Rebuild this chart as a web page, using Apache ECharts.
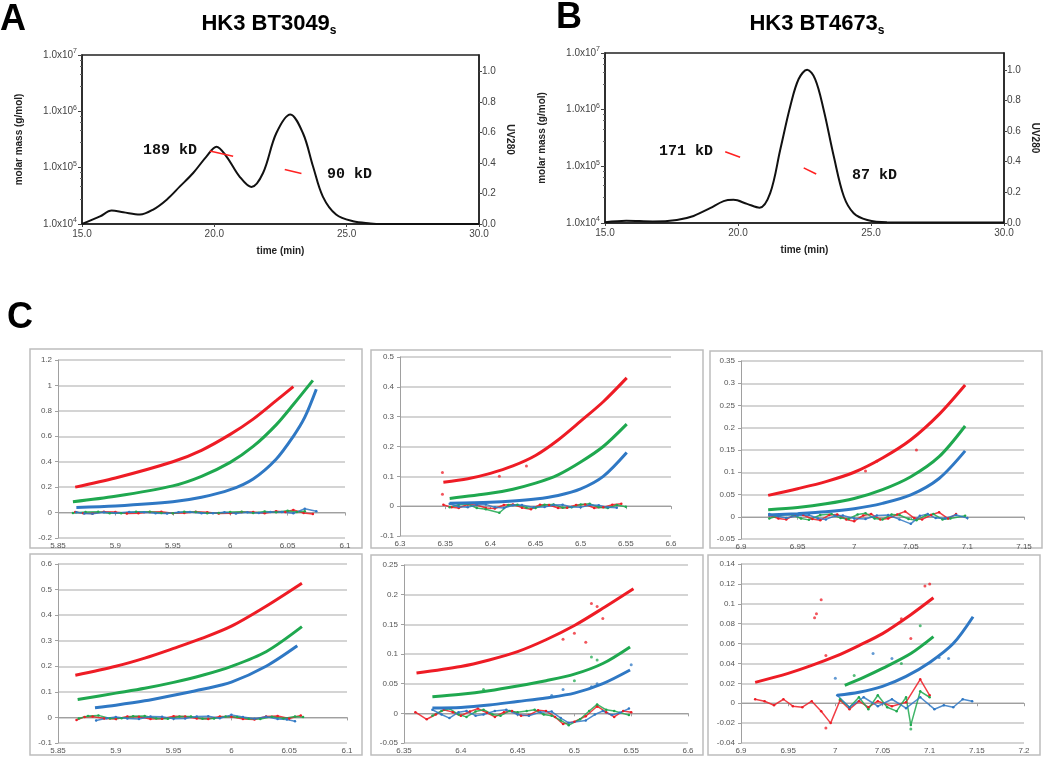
<!DOCTYPE html>
<html>
<head>
<meta charset="utf-8">
<script src="https://cdn.jsdelivr.net/npm/echarts@6/dist/echarts.min.js"></script>
<style>
  html, body { margin: 0; padding: 0; background: #fff; }
  #chart { width: 1050px; height: 760px; }
</style>
</head>
<body>
<div id="chart"></div>
<script>
// ---------- A / B : SEC-MALS traces [time (min), UV280] ----------
const uvA = [[15.0, 0.0], [15.68, 0.05], [16.12, 0.088], [16.56, 0.077], [17.19, 0.062], [17.69, 0.095],
  [18.2, 0.16], [18.7, 0.247], [19.2, 0.335], [19.7, 0.443], [20.08, 0.508], [20.46, 0.443], [20.96, 0.31],
  [21.4, 0.243], [21.84, 0.335], [22.34, 0.596], [22.87, 0.72], [23.35, 0.596], [23.73, 0.378], [24.1, 0.18],
  [24.6, 0.062], [25.24, 0.018], [25.9, 0.004], [26.3, 0.0], [30.0, 0.0]]
const uvB = [[15.0, 0.005], [15.8, 0.015], [16.8, 0.01], [17.7, 0.02], [18.33, 0.046], [18.95, 0.097],
  [19.46, 0.143], [19.83, 0.151], [20.34, 0.125], [20.81, 0.1], [21.21, 0.195], [21.59, 0.48], [21.97, 0.765],
  [22.28, 0.94], [22.6, 1.0], [22.9, 0.94], [23.22, 0.74], [23.6, 0.436], [23.98, 0.173], [24.35, 0.064],
  [24.86, 0.02], [25.6, 0.005], [30.0, 0.003]]
// molar mass across peaks [time, g/mol]
const massA1 = [[19.83, 1.98e5], [20.71, 1.6e5]]
const massA2 = [[22.66, 9.3e4], [23.29, 7.9e4]]
const massB1 = [[19.52, 1.8e5], [20.08, 1.44e5]]
const massB2 = [[22.47, 9.4e4], [22.94, 7.3e4]]
const massLabelsA = ['189 kD', '90 kD']
const massLabelsB = ['171 kD', '87 kD']
const titles = ['HK3 BT3049', 'HK3 BT4673']
const uvTicks = [0, 1.11, 0.2]
const timeTicks = [15, 30, 5]

// ---------- C : six small panels (TL, TM, TR, BL, BM, BR) ----------
const xTicksC = [[5.85, 6.1, 0.05], [6.3, 6.6, 0.05], [6.9, 7.15, 0.05], [5.85, 6.1, 0.05], [6.35, 6.6, 0.05], [6.9, 7.2, 0.05]]
const yTicksC = [[-0.2, 1.2, 0.2], [-0.1, 0.5, 0.1], [-0.05, 0.35, 0.05], [-0.1, 0.6, 0.1], [-0.05, 0.25, 0.05], [-0.04, 0.14, 0.02]]

const tlRed = [[5.865, 0.2], [5.9, 0.272], [5.95, 0.4], [5.975, 0.49], [6.0, 0.615], [6.02, 0.735], [6.04, 0.88], [6.055, 0.99]]
const tlGreen = [[5.863, 0.085], [5.9, 0.128], [5.95, 0.21], [5.975, 0.285], [6.0, 0.395], [6.02, 0.52], [6.04, 0.69], [6.055, 0.85], [6.072, 1.04]]
const tlBlue = [[5.866, 0.04], [5.9, 0.052], [5.95, 0.085], [5.975, 0.12], [6.0, 0.18], [6.02, 0.265], [6.04, 0.42], [6.055, 0.6], [6.065, 0.75], [6.075, 0.97]]
const tlResRed = [[5.865, 0.005], [5.872, -0.006], [5.88, -0.008], [5.89, 0.006], [5.9, 0.004], [5.91, -0.007], [5.92, -0.006], [5.93, 0.005], [5.94, 0.006], [5.95, -0.005], [5.96, -0.004], [5.97, 0.006], [5.98, 0.003], [5.99, -0.007], [6.0, -0.006], [6.01, 0.005], [6.02, 0.004], [6.03, -0.005], [6.04, 0.01], [6.048, 0.004], [6.055, 0.02], [6.064, -0.004], [6.072, -0.012]]
const tlResGreen = [[5.863, -0.004], [5.874, 0.005], [5.885, 0.006], [5.895, -0.006], [5.905, -0.005], [5.918, 0.006], [5.93, 0.007], [5.94, -0.004], [5.95, -0.006], [5.96, 0.006], [5.97, 0.005], [5.98, -0.006], [5.99, -0.004], [6.0, 0.005], [6.01, 0.006], [6.02, -0.004], [6.03, 0.008], [6.04, 0.002], [6.05, 0.015], [6.058, 0.004], [6.065, 0.01]]
const tlResBlue = [[5.866, 0.002], [5.873, -0.007], [5.88, -0.01], [5.89, 0.003], [5.9, -0.004], [5.912, 0.004], [5.925, 0.002], [5.935, -0.006], [5.945, -0.008], [5.955, 0.003], [5.965, 0.004], [5.975, -0.005], [5.985, -0.006], [5.995, 0.002], [6.005, -0.008], [6.015, 0.002], [6.025, -0.004], [6.035, 0.004], [6.045, 0.005], [6.055, -0.006], [6.065, 0.03], [6.075, 0.01]]

const tmRed = [[6.348, 0.08], [6.375, 0.092], [6.4, 0.11], [6.425, 0.135], [6.45, 0.17], [6.475, 0.222], [6.5, 0.285], [6.525, 0.35], [6.551, 0.43]]
const tmGreen = [[6.355, 0.026], [6.4, 0.043], [6.425, 0.057], [6.45, 0.077], [6.475, 0.105], [6.5, 0.148], [6.525, 0.2], [6.551, 0.275]]
const tmBlue = [[6.355, 0.01], [6.4, 0.013], [6.425, 0.017], [6.45, 0.024], [6.475, 0.036], [6.5, 0.058], [6.525, 0.1], [6.551, 0.18]]
const tmResRed = [[6.348, 0.005], [6.357, -0.004], [6.365, -0.006], [6.375, 0.006], [6.385, 0.004], [6.395, -0.006], [6.405, -0.008], [6.415, 0.004], [6.425, 0.006], [6.435, -0.005], [6.445, -0.01], [6.455, 0.005], [6.465, 0.004], [6.475, -0.006], [6.485, -0.005], [6.495, 0.004], [6.505, 0.006], [6.515, -0.006], [6.525, -0.004], [6.535, 0.005], [6.545, 0.008]]
const tmResGreen = [[6.355, -0.004], [6.365, 0.005], [6.375, 0.007], [6.385, -0.006], [6.395, -0.01], [6.41, -0.022], [6.42, 0.004], [6.43, 0.005], [6.44, -0.005], [6.45, -0.006], [6.46, 0.005], [6.47, 0.006], [6.48, -0.005], [6.49, -0.004], [6.5, 0.006], [6.51, 0.008], [6.52, -0.004], [6.53, -0.006], [6.54, 0.004], [6.55, -0.002]]
const tmResBlue = [[6.355, 0.008], [6.365, -0.002], [6.375, -0.004], [6.385, 0.005], [6.395, 0.006], [6.405, -0.004], [6.415, -0.006], [6.425, 0.003], [6.435, 0.004], [6.448, -0.004], [6.46, -0.003], [6.47, 0.004], [6.48, 0.005], [6.49, -0.003], [6.5, -0.004], [6.51, 0.004], [6.52, 0.003], [6.53, -0.004], [6.54, -0.005]]
const tmPtsRed = [[6.347, 0.113], [6.347, 0.04], [6.41, 0.1], [6.44, 0.135]]

const trRed = [[6.924, 0.048], [6.95, 0.063], [6.975, 0.079], [7.0, 0.1], [7.025, 0.132], [7.05, 0.173], [7.075, 0.23], [7.098, 0.296]]
const trGreen = [[6.924, 0.016], [6.95, 0.021], [6.975, 0.029], [7.0, 0.041], [7.025, 0.061], [7.05, 0.09], [7.075, 0.135], [7.098, 0.204]]
const trBlue = [[6.924, 0.004], [6.95, 0.007], [6.975, 0.011], [7.0, 0.018], [7.025, 0.03], [7.05, 0.049], [7.075, 0.086], [7.098, 0.148]]
const trResRed = [[6.925, 0.003], [6.933, -0.004], [6.94, -0.006], [6.948, 0.005], [6.955, 0.004], [6.963, -0.005], [6.97, -0.008], [6.978, 0.004], [6.985, 0.005], [6.993, -0.006], [7.0, -0.01], [7.008, 0.003], [7.015, 0.006], [7.023, -0.006], [7.03, -0.004], [7.038, 0.005], [7.045, 0.012], [7.053, -0.003], [7.06, -0.006], [7.068, 0.004], [7.075, 0.01], [7.083, -0.004], [7.09, 0.006]]
const trResGreen = [[6.925, -0.004], [6.935, 0.004], [6.945, 0.005], [6.953, -0.004], [6.96, -0.007], [6.97, 0.004], [6.98, 0.006], [6.988, -0.003], [6.995, -0.005], [7.003, 0.005], [7.01, 0.008], [7.018, -0.004], [7.025, -0.006], [7.033, 0.005], [7.04, 0.004], [7.048, -0.005], [7.055, -0.008], [7.063, 0.003], [7.07, 0.006], [7.078, -0.006], [7.085, -0.004], [7.098, 0.002]]
const trResBlue = [[6.925, 0.006], [6.933, 0.001], [6.94, -0.003], [6.95, 0.003], [6.96, 0.004], [6.968, -0.004], [6.975, -0.006], [6.983, 0.002], [6.99, 0.003], [7.0, -0.004], [7.01, -0.005], [7.02, 0.003], [7.03, 0.004], [7.04, -0.006], [7.05, -0.016], [7.058, 0.002], [7.065, 0.006], [7.072, -0.003], [7.08, -0.004], [7.09, 0.004], [7.1, -0.003]]
const trPtsRed = [[7.055, 0.15], [7.02, 0.125], [7.01, 0.103]]

const blRed = [[5.865, 0.165], [5.9, 0.2], [5.925, 0.232], [5.95, 0.27], [5.975, 0.31], [6.0, 0.357], [6.03, 0.435], [6.061, 0.525]]
const blGreen = [[5.867, 0.07], [5.9, 0.095], [5.925, 0.114], [5.95, 0.137], [5.975, 0.165], [6.0, 0.2], [6.03, 0.257], [6.061, 0.355]]
const blBlue = [[5.882, 0.038], [5.9, 0.048], [5.925, 0.065], [5.95, 0.087], [5.975, 0.11], [6.0, 0.138], [6.03, 0.2], [6.057, 0.28]]
const blResRed = [[5.866, -0.01], [5.873, 0.002], [5.88, 0.004], [5.89, -0.004], [5.9, -0.006], [5.91, 0.004], [5.92, 0.003], [5.93, -0.006], [5.94, -0.005], [5.95, 0.005], [5.96, 0.004], [5.97, -0.004], [5.98, -0.006], [5.99, 0.004], [6.0, 0.003], [6.01, -0.006], [6.02, -0.008], [6.03, 0.004], [6.04, 0.006], [6.05, -0.004], [6.06, 0.008]]
const blResGreen = [[5.868, -0.004], [5.876, 0.006], [5.885, 0.008], [5.895, -0.004], [5.905, -0.003], [5.915, 0.005], [5.925, 0.006], [5.935, -0.004], [5.945, -0.005], [5.955, 0.004], [5.965, 0.004], [5.975, -0.005], [5.985, -0.004], [5.995, 0.004], [6.005, 0.002], [6.015, -0.005], [6.025, -0.006], [6.035, 0.003], [6.045, -0.004], [6.055, 0.004], [6.062, 0.002]]
const blResBlue = [[5.883, -0.012], [5.892, -0.003], [5.9, 0.002], [5.91, -0.004], [5.92, -0.006], [5.93, 0.004], [5.94, 0.003], [5.95, -0.005], [5.96, -0.004], [5.97, 0.004], [5.98, 0.005], [5.99, -0.003], [6.0, 0.01], [6.01, 0.002], [6.02, -0.005], [6.03, 0.003], [6.04, -0.006], [6.048, -0.008], [6.055, -0.015]]

const bmRed = [[6.361, 0.068], [6.4, 0.079], [6.425, 0.09], [6.45, 0.104], [6.475, 0.124], [6.5, 0.148], [6.525, 0.177], [6.552, 0.21]]
const bmGreen = [[6.375, 0.028], [6.4, 0.032], [6.425, 0.038], [6.45, 0.046], [6.475, 0.055], [6.5, 0.066], [6.525, 0.084], [6.549, 0.112]]
const bmBlue = [[6.375, 0.009], [6.4, 0.01], [6.425, 0.014], [6.45, 0.02], [6.475, 0.026], [6.5, 0.034], [6.525, 0.05], [6.549, 0.073]]
const bmResRed = [[6.36, 0.002], [6.37, -0.01], [6.378, -0.002], [6.385, 0.006], [6.393, 0.002], [6.4, -0.004], [6.408, 0.003], [6.415, 0.008], [6.423, 0.001], [6.43, -0.006], [6.438, 0.002], [6.445, 0.004], [6.453, -0.004], [6.46, -0.003], [6.468, 0.005], [6.475, 0.004], [6.483, -0.006], [6.49, -0.018], [6.5, -0.014], [6.51, -0.005], [6.52, 0.012], [6.528, 0.002], [6.535, -0.006], [6.543, 0.004], [6.55, 0.002]]
const bmResGreen = [[6.375, -0.004], [6.383, 0.004], [6.39, 0.008], [6.398, -0.002], [6.405, -0.006], [6.413, 0.003], [6.42, 0.006], [6.428, -0.002], [6.435, -0.004], [6.443, 0.004], [6.45, 0.002], [6.458, 0.004], [6.465, 0.006], [6.473, -0.002], [6.48, -0.004], [6.488, -0.012], [6.495, -0.02], [6.505, -0.01], [6.513, 0.004], [6.52, 0.015], [6.528, 0.006], [6.535, 0.004], [6.548, -0.003]]
const bmResBlue = [[6.375, 0.006], [6.383, -0.002], [6.39, -0.008], [6.398, 0.002], [6.405, 0.004], [6.413, -0.004], [6.42, -0.002], [6.43, 0.004], [6.44, 0.006], [6.45, -0.002], [6.46, -0.004], [6.47, 0.002], [6.48, 0.003], [6.488, -0.008], [6.495, -0.016], [6.51, -0.012], [6.518, -0.002], [6.525, 0.004], [6.533, -0.003], [6.54, 0.001], [6.548, 0.008]]
const bmPtsRed = [[6.51, 0.12], [6.515, 0.185], [6.52, 0.18], [6.525, 0.16], [6.5, 0.135], [6.49, 0.125]]
const bmPtsGreen = [[6.52, 0.09], [6.515, 0.095], [6.5, 0.055], [6.42, 0.04]]
const bmPtsBlue = [[6.515, 0.045], [6.52, 0.05], [6.49, 0.04], [6.55, 0.082], [6.48, 0.03]]

const brRed = [[6.915, 0.021], [6.95, 0.03], [6.975, 0.038], [7.0, 0.047], [7.025, 0.058], [7.05, 0.07], [7.08, 0.089], [7.104, 0.106]]
const brGreen = [[7.01, 0.018], [7.03, 0.026], [7.05, 0.035], [7.08, 0.05], [7.104, 0.067]]
const brBlue = [[7.002, 0.008], [7.025, 0.011], [7.05, 0.017], [7.075, 0.027], [7.1, 0.041], [7.125, 0.06], [7.146, 0.087]]
const brResRed = [[6.915, 0.004], [6.925, 0.002], [6.935, -0.002], [6.945, 0.004], [6.955, -0.003], [6.965, -0.004], [6.975, 0.002], [6.985, -0.008], [6.995, -0.02], [7.005, 0.003], [7.015, -0.006], [7.025, 0.002], [7.035, -0.004], [7.045, 0.002], [7.06, -0.003], [7.075, 0.001], [7.09, 0.024], [7.1, 0.008]]
const brResGreen = [[7.005, 0.004], [7.015, -0.004], [7.025, 0.006], [7.035, -0.006], [7.045, 0.008], [7.055, -0.004], [7.065, -0.008], [7.075, 0.006], [7.08, -0.022], [7.09, 0.012], [7.1, 0.006]]
const brResBlue = [[7.002, 0.008], [7.015, -0.004], [7.03, 0.006], [7.045, -0.003], [7.06, 0.004], [7.075, -0.005], [7.09, 0.006], [7.105, -0.006], [7.115, -0.002], [7.125, -0.004], [7.135, 0.004], [7.145, 0.002]]
const brPtsRed = [[6.985, 0.104], [6.98, 0.09], [6.978, 0.086], [6.99, 0.048], [7.1, 0.12], [7.095, 0.118], [7.07, 0.085], [7.08, 0.065], [6.99, -0.025]]
const brPtsGreen = [[7.09, 0.078], [7.095, 0.06], [7.02, 0.028], [7.07, 0.04], [7.08, -0.026]]
const brPtsBlue = [[7.0, 0.025], [7.04, 0.05], [7.06, 0.045], [7.12, 0.045], [7.11, 0.046]]

// ---------- layout ----------
const RED = '#ee1c25'
const GREEN = '#1fa84f'
const BLUE = '#2f78c4'
const SANS = 'Liberation Sans'

const mainGrids = [
	{ left: 82, top: 55, width: 397, height: 169 },
	{ left: 605, top: 53, width: 399, height: 170 }
]
const smallBoxes = [[30, 349, 332, 199], [371, 350, 332, 198], [710, 351, 332, 197], [30, 554, 332, 201], [371, 555, 332, 200], [708, 555, 332, 200]]
const smallGrids = [[58, 360, 287, 178], [400, 357, 271, 179], [741, 361, 283, 178], [58, 564, 289, 179], [404, 565, 284, 178], [741, 564, 283, 179]]

const panels = [
	{ fits: [tlRed, tlGreen, tlBlue], res: [tlResRed, tlResGreen, tlResBlue], pts: [[], [], []] },
	{ fits: [tmRed, tmGreen, tmBlue], res: [tmResRed, tmResGreen, tmResBlue], pts: [tmPtsRed, [], []] },
	{ fits: [trRed, trGreen, trBlue], res: [trResRed, trResGreen, trResBlue], pts: [trPtsRed, [], []] },
	{ fits: [blRed, blGreen, blBlue], res: [blResRed, blResGreen, blResBlue], pts: [[], [], []] },
	{ fits: [bmRed, bmGreen, bmBlue], res: [bmResRed, bmResGreen, bmResBlue], pts: [bmPtsRed, bmPtsGreen, bmPtsBlue] },
	{ fits: [brRed, brGreen, brBlue], res: [brResRed, brResGreen, brResBlue], pts: [brPtsRed, brPtsGreen, brPtsBlue] }
]
const colors = [RED, GREEN, BLUE]

const grid = []
const xAxis = []
const yAxis = []
const series = []

// main panels A and B
mainGrids.forEach((g, i) => {
	grid.push({ ...g, show: true, borderColor: '#222', borderWidth: 1.5, containLabel: false, outerBoundsMode: 'none' })
	xAxis.push({
		type: 'value', gridIndex: i, min: timeTicks[0], max: timeTicks[1], interval: timeTicks[2],
		name: 'time (min)', nameLocation: 'middle', nameGap: 22,
		nameTextStyle: { fontFamily: SANS, fontSize: 10, fontWeight: 'bold', color: '#222' },
		axisLine: { lineStyle: { color: '#222', width: 1.5 } },
		axisTick: { length: 3, lineStyle: { color: '#444' } },
		axisLabel: { fontFamily: SANS, fontSize: 10, color: '#444', margin: 5, formatter: v => v.toFixed(1) },
		splitLine: { show: false }
	})
	yAxis.push({
		type: 'log', logBase: 10, gridIndex: i, min: 1e4, max: 1e7,
		name: 'molar mass (g/mol)', nameLocation: 'middle', nameGap: 58,
		nameTextStyle: { fontFamily: SANS, fontSize: 10, fontWeight: 'bold', color: '#222' },
		axisLine: { show: true, lineStyle: { color: '#222', width: 1.5 } },
		axisTick: { show: true, length: 4, lineStyle: { color: '#444' } },
		minorTick: { show: true, splitNumber: 5, length: 2, lineStyle: { color: '#666' } },
		axisLabel: {
			fontFamily: SANS, color: '#444', margin: 5,
			formatter: v => '{b|1.0x10}{s|' + Math.round(Math.log10(v)) + '}',
			rich: {
				b: { fontFamily: SANS, fontSize: 10, color: '#444', lineHeight: 14 },
				s: { fontFamily: SANS, fontSize: 7, color: '#444', lineHeight: 7, verticalAlign: 'top' }
			}
		},
		splitLine: { show: false }
	})
	yAxis.push({
		type: 'value', gridIndex: i, position: 'right', min: uvTicks[0], max: uvTicks[1], interval: uvTicks[2],
		name: 'UV280', nameLocation: 'middle', nameGap: 26, nameRotate: -90,
		nameTextStyle: { fontFamily: SANS, fontSize: 10, fontWeight: 'bold', color: '#222' },
		axisLine: { show: true, lineStyle: { color: '#222', width: 1.5 } },
		axisTick: { show: true, length: 3, lineStyle: { color: '#444' } },
		axisLabel: {
			fontFamily: SANS, fontSize: 10, color: '#444', margin: 3, showMaxLabel: false,
			formatter: v => (Math.abs(v * 5 - Math.round(v * 5)) < 1e-6 ? v.toFixed(1) : '')
		},
		splitLine: { show: false }
	})
})

const mainSeries = [
	{ uv: uvA, mass: [massA1, massA2] },
	{ uv: uvB, mass: [massB1, massB2] }
]
mainSeries.forEach((m, i) => {
	series.push({
		type: 'line', xAxisIndex: i, yAxisIndex: i * 2 + 1, data: m.uv, smooth: 0.35,
		showSymbol: false, lineStyle: { color: '#111', width: 2 }, z: 3
	})
	m.mass.forEach(seg => {
		series.push({
			type: 'line', xAxisIndex: i, yAxisIndex: i * 2, data: seg,
			showSymbol: false, lineStyle: { color: '#ff2222', width: 1.6 }, z: 4
		})
	})
})

// small panels C
panels.forEach((p, k) => {
	const gi = k + 2
	const xi = k + 2
	const yi = k + 4
	const [gl, gt, gw, gh] = smallGrids[k]
	grid.push({ left: gl, top: gt, width: gw, height: gh, containLabel: false, outerBoundsMode: 'none' })
	const [x0, x1, xStep] = xTicksC[k]
	const [y0, y1, yStep] = yTicksC[k]
	xAxis.push({
		type: 'value', gridIndex: gi, min: x0, max: x1, interval: xStep,
		axisLine: { onZero: true, lineStyle: { color: '#a0a0a0', width: 1 } },
		axisTick: { length: 3, lineStyle: { color: '#a0a0a0' } },
		axisLabel: { fontFamily: SANS, fontSize: 8, color: '#555', margin: 4, hideOverlap: false },
		splitLine: { show: false }
	})
	yAxis.push({
		type: 'value', gridIndex: gi, min: y0, max: y1, interval: yStep,
		axisLine: { show: true, lineStyle: { color: '#a0a0a0', width: 1 } },
		axisTick: { show: true, length: 3, lineStyle: { color: '#a0a0a0' } },
		axisLabel: { fontFamily: SANS, fontSize: 8, color: '#555', margin: 6 },
		splitLine: { show: true, lineStyle: { color: '#c6c6c6', width: 1.5 } }
	})
	p.res.forEach((d, c) => {
		series.push({
			type: 'line', xAxisIndex: xi, yAxisIndex: yi, data: d, symbol: 'circle', symbolSize: 2.5,
			showSymbol: true, itemStyle: { color: colors[c] }, lineStyle: { color: colors[c], width: 1.5, opacity: 0.85 }, z: 2
		})
	})
	p.pts.forEach((d, c) => {
		if (!d.length) return
		series.push({
			type: 'scatter', xAxisIndex: xi, yAxisIndex: yi, data: d, symbolSize: 3,
			itemStyle: { color: colors[c], opacity: 0.75 }, z: 2
		})
	})
	p.fits.forEach((d, c) => {
		series.push({
			type: 'line', xAxisIndex: xi, yAxisIndex: yi, data: d, smooth: 0.3,
			showSymbol: false, lineStyle: { color: colors[c], width: 3 }, z: 3
		})
	})
})

// panel letters, titles, annotations, frames
const graphic = []
const letter = (t, x, y) => ({
	type: 'text', left: x, top: y,
	style: { text: t, fontFamily: SANS, fontSize: 36, fontWeight: 'bold', fill: '#000' }
})
graphic.push(letter('A', 0, 2), letter('B', 556, 0), letter('C', 7, 300))
const title = (t, x) => ({
	type: 'text', x: x, y: 24,
	style: {
		text: '{t|' + t + '}{s|s}', align: 'center', verticalAlign: 'middle',
		rich: {
			t: { fontFamily: SANS, fontSize: 22, fontWeight: 'bold', fill: '#000', lineHeight: 26 },
			s: { fontFamily: SANS, fontSize: 12, fontWeight: 'bold', fill: '#000', lineHeight: 18, verticalAlign: 'bottom' }
		}
	}
})
graphic.push(title(titles[0], 269), title(titles[1], 817))
const kd = (t, x, y) => ({
	type: 'text', x: x, y: y,
	style: { text: t, fontFamily: 'Liberation Mono', fontSize: 15, fontWeight: 'bold', fill: '#111', verticalAlign: 'middle' }
})
graphic.push(kd(massLabelsA[0], 143, 150), kd(massLabelsA[1], 327, 174), kd(massLabelsB[0], 659, 151), kd(massLabelsB[1], 852, 175))
smallBoxes.forEach(b => {
	graphic.push({
		type: 'rect', shape: { x: b[0], y: b[1], width: b[2], height: b[3] }, z: -10,
		style: { fill: 'none', stroke: '#bdbdbd', lineWidth: 1.5 }
	})
})

const chart = echarts.init(document.getElementById('chart'), null, { renderer: 'canvas' })
chart.setOption({
	backgroundColor: '#fff',
	animation: false,
	grid,
	xAxis,
	yAxis,
	series,
	graphic
})
</script>
</body>
</html>
